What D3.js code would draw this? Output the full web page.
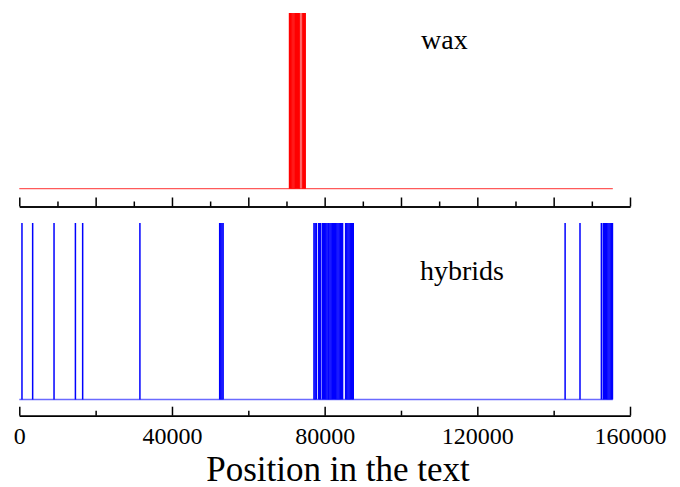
<!DOCTYPE html>
<html>
<head>
<meta charset="utf-8">
<script src="https://cdn.jsdelivr.net/npm/d3@7"></script>
<style>
  body { margin: 0; background: #fff; }
  svg text { font-family: "Times New Roman", "Liberation Serif", "DejaVu Serif", serif; fill: #000; }
</style>
</head>
<body>
<svg width="680" height="487"></svg>
<script>
// positions (characters into the text) where each word occurs
const waxPositions = [70800, 71100, 71400, 71700, 72000, 72300, 72600, 72900, 73200, 73500,
  74100, 74400, 74700, 74900];
const hybridPositions = [700, 3500, 9100, 14700, 16600, 31600,
  52500, 52800, 53100, 53400,
  77200, 77500, 77800, 78400, 78700, 78900, 79400, 79700, 80000, 80300, 80600, 80900, 81100,
  81400, 81700, 82000, 82300, 82600, 82900, 83200, 83500, 83800, 84100, 84400, 84700,
  85500, 85800, 86100, 86400, 86700, 87000, 87300, 87500,
  143000, 146900, 152500,
  153000, 153300, 153600, 153900, 154200, 154500, 154800, 155100, 155400];
const textLength = 155500;
const majorTicks = [0, 40000, 80000, 120000, 160000];
const midTicks = [20000, 60000, 100000, 140000];
const topMinorTicks = [10000, 30000, 50000, 70000, 90000, 110000, 130000, 150000];

const serif = "'Times New Roman', 'Liberation Serif', 'DejaVu Serif', serif";
const svg = d3.select("svg");

const x = d3.scaleLinear().domain([0, 160000]).range([19.3, 630]);
const yTop = d3.scaleLinear().domain([0, 1]).range([188.7, 13]);
const yBot = d3.scaleLinear().domain([0, 1]).range([399.5, 223]);

function panel(positions, y, color, base) {
  const g = svg.append("g");
  // baseline
  g.append("line")
    .attr("x1", x(0)).attr("x2", x(textLength))
    .attr("y1", y(0)).attr("y2", y(0))
    .attr("stroke", base).attr("stroke-width", 1.3);
  g.selectAll(".occ")
    .data(positions)
    .enter()
    .append("line")
    .attr("class", "occ")
    .attr("x1", d => x(d)).attr("x2", d => x(d))
    .attr("y1", y(0)).attr("y2", y(1))
    .attr("stroke", color).attr("stroke-width", 1.5);
}

panel(waxPositions, yTop, "#ff0000", "#ff5a5a");
panel(hybridPositions, yBot, "#0000ff", "#6a6aff");

// axis without labels
function bareAxis(yPos, ticks, size) {
  svg.append("g")
    .attr("transform", `translate(0,${yPos})`)
    .call(d3.axisBottom(x).tickValues(ticks).tickSizeInner(-size).tickSizeOuter(0).tickFormat(""))
    .call(g => g.selectAll("line").attr("stroke", "#000").attr("stroke-width", 1.5))
    .call(g => g.select(".domain").attr("stroke", "#000").attr("stroke-width", 1.5));
}

bareAxis(206.5, majorTicks.concat(midTicks), 9);
bareAxis(206.5, topMinorTicks, 5);

// axis under the hybrids panel
bareAxis(415.7, midTicks, 5);
svg.append("g")
  .attr("transform", "translate(0,415.7)")
  .call(d3.axisBottom(x).tickValues(majorTicks).tickSizeInner(-9).tickSizeOuter(0).tickPadding(11.3).tickFormat(d3.format("d")))
  .attr("font-family", serif)
  .call(g => g.selectAll("line").attr("stroke", "#000").attr("stroke-width", 1.5))
  .call(g => g.select(".domain").attr("stroke", "#000").attr("stroke-width", 1.5))
  .call(g => g.selectAll("text")
    .attr("font-family", serif)
    .style("font-family", serif)
    .style("font-size", "24px")
    .attr("fill", "#000"));

// panel labels
svg.append("text")
  .attr("x", 421).attr("y", 49)
  .attr("font-family", serif)
  .style("font-size", "28px")
  .text("wax");

svg.append("text")
  .attr("x", 420).attr("y", 280)
  .attr("font-family", serif)
  .style("font-size", "28px")
  .text("hybrids");

// x axis title
svg.append("text")
  .attr("x", 338).attr("y", 480.5)
  .attr("font-family", serif)
  .style("text-anchor", "middle")
  .style("font-size", "35px")
  .text("Position in the text");
</script>
</body>
</html>
